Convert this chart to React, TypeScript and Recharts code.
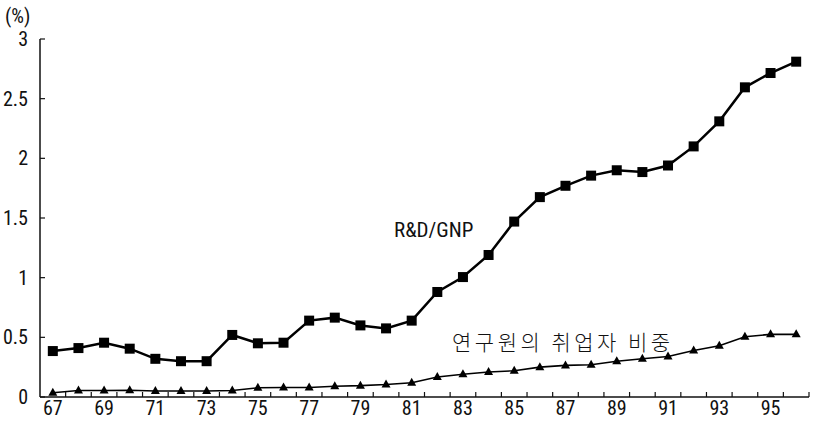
import { LineChart, Line, XAxis, YAxis } from "recharts";

const years = [67, 68, 69, 70, 71, 72, 73, 74, 75, 76, 77, 78, 79, 80, 81, 82, 83, 84, 85, 86, 87, 88, 89, 90, 91, 92, 93, 94, 95, 96];
const rdGnp = [0.385, 0.41, 0.455, 0.405, 0.32, 0.3, 0.3, 0.52, 0.45, 0.455, 0.64, 0.665, 0.6, 0.575, 0.64, 0.88, 1.005, 1.19, 1.47, 1.675, 1.77, 1.855, 1.9, 1.885, 1.94, 2.1, 2.31, 2.595, 2.715, 2.81];
const researcherShare = [0.035, 0.055, 0.055, 0.057, 0.05, 0.05, 0.05, 0.055, 0.077, 0.08, 0.08, 0.09, 0.095, 0.105, 0.12, 0.167, 0.19, 0.21, 0.22, 0.25, 0.265, 0.27, 0.3, 0.32, 0.34, 0.39, 0.43, 0.505, 0.525, 0.525];
const xLabels = [67, 69, 71, 73, 75, 77, 79, 81, 83, 85, 87, 89, 91, 93, 95];
const yTicks = [0, 0.5, 1, 1.5, 2, 2.5, 3];

const data = years.map((year, i) => ({ year, rd: rdGnp[i], res: researcherShare[i] }));
// tick marks sit between the years
const minorTicks = years.map((y) => y + 0.5);

const numFont = "'Liberation Sans Narrow', 'Roboto Condensed', 'Liberation Sans', Arial, sans-serif";

function XTick(props: any) {
  const { x, y, payload } = props;
  if (Number.isInteger(payload.value)) {
    return (
      <text x={x} y={y + 4} dy="0.71em" textAnchor="middle" fill="#111" fontSize={20} fontFamily={numFont}>
        {payload.value}
      </text>
    );
  }
  return <line x1={x} x2={x} y1={y} y2={y - 5} stroke="#111" strokeWidth={1.2} />;
}

function YTick(props: any) {
  const { x, y, payload } = props;
  return (
    <g>
      <line x1={x} x2={x + 5} y1={y} y2={y} stroke="#111" strokeWidth={1.2} />
      <text x={x - 12} y={y} dy="0.35em" textAnchor="end" fill="#111" fontSize={20} fontFamily={numFont}>
        {payload.value}
      </text>
    </g>
  );
}

function SquareDot(props: any) {
  const { cx, cy } = props;
  if (cx == null || cy == null) return null;
  return <rect x={cx - 5} y={cy - 5} width={10} height={10} fill="#000" />;
}

function TriangleDot(props: any) {
  const { cx, cy } = props;
  if (cx == null || cy == null) return null;
  return <polygon points={`${cx},${cy - 5} ${cx - 4.5},${cy + 3} ${cx + 4.5},${cy + 3}`} fill="#000" />;
}

export default function App() {
  return (
    <div style={{ position: "absolute", left: 0, top: 0, width: 813, height: 428, background: "#fff" }}>
      <LineChart width={813} height={428} data={data} margin={{ top: 39, right: 4, left: 0, bottom: 0 }}>
        <XAxis
          dataKey="year"
          type="number"
          domain={[66.5, 96.5]}
          ticks={[...xLabels, ...minorTicks]}
          interval={0}
          height={31}
          tickSize={0}
          tickMargin={0}
          tickLine={false}
          tick={<XTick />}
          axisLine={{ stroke: "#111", strokeWidth: 1.5 }}
        />
        <YAxis
          domain={[0, 3]}
          ticks={yTicks}
          interval={0}
          width={40}
          tickSize={0}
          tickMargin={0}
          tickLine={false}
          tick={<YTick />}
          axisLine={{ stroke: "#111", strokeWidth: 1.5 }}
        />
        <Line dataKey="rd" stroke="#000" strokeWidth={2.5} dot={<SquareDot />} isAnimationActive={false} />
        <Line dataKey="res" stroke="#000" strokeWidth={1.6} dot={<TriangleDot />} isAnimationActive={false} />
      </LineChart>
      <div style={{ position: "absolute", left: 5, top: 4, fontSize: 20, fontFamily: numFont, color: "#111" }}>(%)</div>
      <div style={{ position: "absolute", left: 394, top: 218, fontSize: 21, fontFamily: numFont, color: "#111" }}>R&amp;D/GNP</div>
      <div
        style={{
          position: "absolute",
          left: 452,
          top: 326,
          fontSize: 21,
          letterSpacing: 3.5,
          fontFamily: "'Noto Sans CJK KR', sans-serif",
          fontWeight: 300,
          color: "#111",
          whiteSpace: "pre",
        }}
      >
        연구원의 취업자 비중
      </div>
    </div>
  );
}
